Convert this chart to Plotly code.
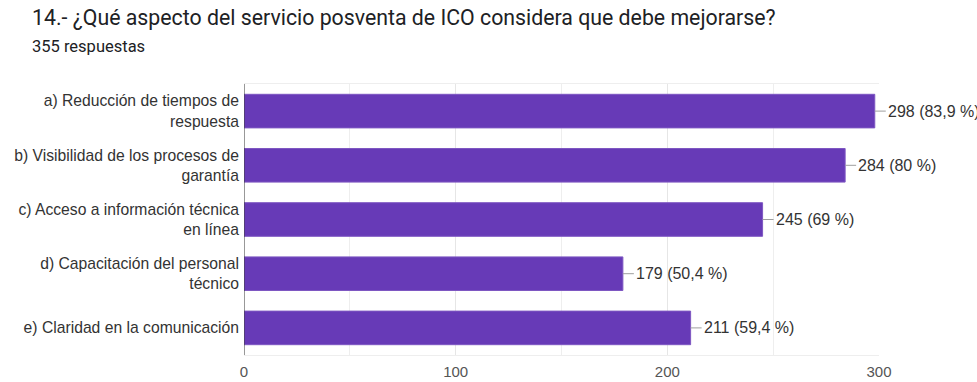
import plotly.graph_objects as go

categories = [
    "a) Reducción de tiempos de<br>respuesta",
    "b) Visibilidad de los procesos de<br>garantía",
    "c) Acceso a información técnica<br>en línea",
    "d) Capacitación del personal<br>técnico",
    "e) Claridad en la comunicación",
]
values = [298, 284, 245, 179, 211]
value_labels = ["298 (83,9 %)", "284 (80 %)", "245 (69 %)", "179 (50,4 %)", "211 (59,4 %)"]
x_ticks = [0, 100, 200, 300]

fig = go.Figure(go.Bar(
    x=values, y=categories, orientation="h",
    marker=dict(color="#673ab7", line=dict(color="#7e57c2", width=1)),
    hoverinfo="skip",
))

for c, v, t in zip(categories, values, value_labels):
    fig.add_annotation(
        x=v, y=c, text=t, showarrow=True, ax=11, ay=0,
        xanchor="left", arrowhead=0, arrowwidth=1, arrowcolor="#9e9e9e",
        standoff=0, startstandoff=0,
        font=dict(family="Arial, Liberation Sans", size=16, color="#333333"),
    )

fig.add_annotation(
    xref="paper", yref="paper", x=-(244 - 30) / 635, y=1 + 66 / 271, xanchor="left", yanchor="middle",
    text="14.- ¿Qué aspecto del servicio posventa de ICO considera que debe mejorarse?",
    showarrow=False, font=dict(family="Roboto", size=21.3, color="#202124"),
)
fig.add_annotation(
    xref="paper", yref="paper", x=-(244 - 30) / 635, y=1 + 38 / 271, xanchor="left", yanchor="middle",
    text="355 respuestas",
    showarrow=False, font=dict(family="Roboto", size=16.5, color="#202124"),
)

fig.update_layout(
    width=977, height=382,
    margin=dict(l=244, r=98, t=84, b=27),
    paper_bgcolor="white", plot_bgcolor="white",
    bargap=0.38, showlegend=False,
    xaxis=dict(
        range=[0, 300], tickvals=x_ticks, showgrid=True, gridcolor="#e6e6e6",
        minor=dict(dtick=50, showgrid=True, gridcolor="#eeeeee"),
        zeroline=False, showline=True, linecolor="#eeeeee", mirror=True,
        tickfont=dict(family="Arial, Liberation Sans", size=15, color="#555555"),
        ticks="", ticklabelstandoff=3, fixedrange=True, automargin=False,
    ),
    yaxis=dict(
        autorange="reversed", showgrid=False, zeroline=False,
        showline=False, ticks="", ticklabelstandoff=4,
        tickfont=dict(family="Arial, Liberation Sans", size=15.7, color="#333333"),
        fixedrange=True, automargin=False,
    ),
)
fig.add_shape(type="line", xref="x", yref="paper", x0=0, x1=0, y0=0, y1=1,
              line=dict(color="#333333", width=1))

fig.write_html("out.html")
